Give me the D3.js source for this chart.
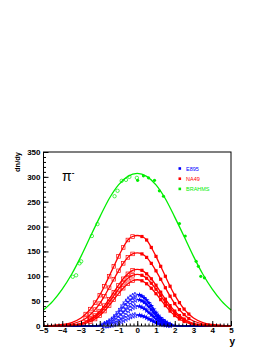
<!DOCTYPE html>
<html>
<head>
<meta charset="utf-8">
<script src="https://cdn.jsdelivr.net/npm/d3@7"></script>
<style>
  body { margin: 0; background: #fff; }
  svg { display: block; font-family: "Liberation Sans", Arial, sans-serif; }
</style>
</head>
<body>
<svg id="chart" width="272" height="352"></svg>
<script>
// axis ticks
var xTicks = [-5, -4, -3, -2, -1, 0, 1, 2, 3, 4, 5];
var yTicks = [0, 50, 100, 150, 200, 250, 300, 350];

// legend
var legendNames = ["E895", "NA49", "BRAHMS"];
var legendColors = ["#0000ff", "#ff0000", "#00ee00"];

// BRAHMS (green): measured points (left, open) and reflected (right, filled)
var brahmsLeftY = [-3.44, -3.26, -3.08, -2.99, -2.42, -2.12, -1.21, -1.05, -0.83, -0.6, -0.42, -0.02];
var brahmsLeftV = [99, 102, 126, 130, 181, 205, 261, 272, 292, 294, 300, 298];
var brahmsRightY = [0.02, 0.33, 0.6, 0.92, 1.18, 1.4, 2.25, 2.56, 3.14, 3.26, 3.39, 3.58];
var brahmsRightV = [293, 302, 298, 293, 272, 261, 206, 181, 130, 120, 100, 97];
// BRAHMS fit curve, half profile (|y|)
var brahmsCurveY = [0, 0.5, 1, 1.5, 2, 2.5, 3, 3.5, 4, 4.5, 5];
var brahmsCurveV = [307, 301, 284, 256, 219, 180, 140, 104, 74, 50, 32];

// NA49 (red), half profiles on |y| grid
var na49Y = [0, 0.25, 0.5, 0.75, 1, 1.25, 1.5, 1.75, 2, 2.25, 2.5, 2.75, 3, 3.5, 4, 4.5, 5];
var na49_158 = [182, 180, 173, 158, 140, 120, 100, 80, 62, 47, 34, 24, 16, 7, 3, 1, 0.3];
var na49_80  = [147, 145, 138, 126, 111, 94, 77, 60, 45, 33, 23, 15, 10, 4, 1.5, 0.5, 0.2];
var na49_40  = [114, 112, 105, 95, 82, 68, 54, 41, 30, 21, 14, 9, 5.5, 2, 0.7, 0.2, 0];
var na49_30  = [104, 102, 96, 86, 74, 61, 48, 36, 26, 18, 12, 7.5, 4.5, 1.5, 0.5, 0.1, 0];
var na49_20  = [93, 91, 85, 76, 65, 53, 41, 30, 21, 14, 9, 5.5, 3, 1, 0.3, 0.1, 0];
var na49MarkMax = [2.75, 2.75, 2.5, 2.5, 2.5];

// E895 (blue), half profiles on |y| grid
var e895Y = [0, 0.125, 0.25, 0.375, 0.5, 0.625, 0.75, 0.875, 1, 1.125, 1.25, 1.375, 1.5, 1.625, 1.75, 1.875, 2, 2.5, 3, 4, 5];
var e895_8 = [63, 62.3, 60, 56.5, 52, 46.5, 40.5, 33.5, 27, 21, 16, 12, 8.5, 5.8, 3.8, 2.3, 1.3, 0.2, 0, 0, 0];
var e895_6 = [53, 52.4, 50.5, 47.5, 43.5, 38.5, 33, 27, 21.5, 16.5, 12.2, 8.8, 6, 4, 2.5, 1.5, 0.9, 0.1, 0, 0, 0];
var e895_4 = [40, 39.4, 37.6, 34.8, 31.2, 27, 22.6, 18.2, 14.2, 10.6, 7.6, 5.2, 3.4, 2.1, 1.3, 0.7, 0.4, 0, 0, 0, 0];
var e895_2 = [22, 21.6, 20.5, 18.8, 16.6, 14.1, 11.5, 9, 6.8, 4.9, 3.4, 2.2, 1.4, 0.8, 0.5, 0.3, 0.1, 0, 0, 0, 0];
var e895MarkMax = 1.75;

var svg = d3.select("#chart");

var x = d3.scaleLinear().domain([-5, 5]).range([43.5, 231]);
var y = d3.scaleLinear().domain([0, 350]).range([326, 152]);

var line = d3.line()
  .x(function(d){ return x(d[0]) })
  .y(function(d){ return y(d[1]) })
  .curve(d3.curveMonotoneX);

// mirror a half profile into a full -5..5 curve
function mirror(grid, vals) {
  var pts = [];
  for (var i = grid.length - 1; i > 0; i--) pts.push([-grid[i], vals[i]]);
  for (var j = 0; j < grid.length; j++) pts.push([grid[j], vals[j]]);
  return pts;
}

var plot = svg.append("g");

// ---- curves ----
[e895_8, e895_6, e895_4, e895_2].forEach(function(v){
  plot.append("path").attr("d", line(mirror(e895Y, v)))
    .attr("fill", "none").attr("stroke", legendColors[0]).attr("stroke-width", 1.3);
});
[na49_158, na49_80, na49_40, na49_30, na49_20].forEach(function(v){
  plot.append("path").attr("d", line(mirror(na49Y, v)))
    .attr("fill", "none").attr("stroke", legendColors[1]).attr("stroke-width", 1.3);
});
plot.append("path").attr("d", line(mirror(brahmsCurveY, brahmsCurveV)))
  .attr("fill", "none").attr("stroke", legendColors[2]).attr("stroke-width", 1.3);

// ---- markers ----
var star = d3.symbol().type(d3.symbolStar).size(10);
[e895_8, e895_6, e895_4, e895_2].forEach(function(v){
  var pts = [];
  e895Y.forEach(function(g, i){ if (g > 0 && g <= e895MarkMax) pts.push([g, v[i]]) });
  plot.selectAll(null).data(pts).enter().append("path")
    .attr("d", star)
    .attr("transform", function(d){ return "translate(" + x(-d[0]) + "," + y(d[1]) + ")" })
    .attr("fill", "#fff").attr("stroke", legendColors[0]).attr("stroke-width", 0.7);
  plot.selectAll(null).data(pts).enter().append("path")
    .attr("d", star)
    .attr("transform", function(d){ return "translate(" + x(d[0]) + "," + y(d[1]) + ")" })
    .attr("fill", legendColors[0]);
});

[na49_158, na49_80, na49_40, na49_30, na49_20].forEach(function(v, k){
  var pts = [];
  na49Y.forEach(function(g, i){ if (g > 0 && g <= na49MarkMax[k]) pts.push([g, v[i]]) });
  plot.selectAll(null).data(pts).enter().append("rect")
    .attr("x", function(d){ return x(-d[0]) - 1.8 })
    .attr("y", function(d){ return y(d[1]) - 1.8 })
    .attr("width", 3.6).attr("height", 3.6)
    .attr("fill", "none").attr("stroke", legendColors[1]).attr("stroke-width", 0.7);
  plot.selectAll(null).data(pts).enter().append("rect")
    .attr("x", function(d){ return x(d[0]) - 1.6 })
    .attr("y", function(d){ return y(d[1]) - 1.6 })
    .attr("width", 3.2).attr("height", 3.2)
    .attr("fill", legendColors[1]);
});

plot.selectAll(null).data(d3.zip(brahmsLeftY, brahmsLeftV)).enter().append("circle")
  .attr("cx", function(d){ return x(d[0]) })
  .attr("cy", function(d){ return y(d[1]) })
  .attr("r", 1.7)
  .attr("fill", "none").attr("stroke", legendColors[2]).attr("stroke-width", 0.7);
plot.selectAll(null).data(d3.zip(brahmsRightY, brahmsRightV)).enter().append("circle")
  .attr("cx", function(d){ return x(d[0]) })
  .attr("cy", function(d){ return y(d[1]) })
  .attr("r", 1.6)
  .attr("fill", legendColors[2]);

// ---- frame and axes ----
svg.append("rect")
  .attr("x", 43.5).attr("y", 152).attr("width", 231 - 43.5).attr("height", 326 - 152)
  .attr("fill", "none").attr("stroke", "#000").attr("stroke-width", 1);

var xMinor = d3.range(-5, 5.001, 0.2);
var yMinor = d3.range(0, 350.1, 10);

svg.append("g").attr("transform", "translate(0,326)")
  .call(d3.axisBottom(x).tickValues(xMinor).tickSize(-2.5).tickFormat(""))
  .call(function(g){ g.select(".domain").remove() });
svg.append("g").attr("transform", "translate(43.5,0)")
  .call(d3.axisLeft(y).tickValues(yMinor).tickSize(-2.5).tickFormat(""))
  .call(function(g){ g.select(".domain").remove() });

var xAxis = svg.append("g").attr("transform", "translate(0,326)")
  .call(d3.axisBottom(x).tickValues(xTicks).tickSize(-5).tickPadding(1.5).tickFormat(d3.format("d")));
xAxis.select(".domain").remove();
xAxis.selectAll("text").attr("font-size", 8).attr("font-weight", "bold")
  .attr("font-family", "Liberation Sans, Arial, sans-serif");

var yAxis = svg.append("g").attr("transform", "translate(43.5,0)")
  .call(d3.axisLeft(y).tickValues(yTicks).tickSize(-5).tickPadding(3));
yAxis.select(".domain").remove();
yAxis.selectAll("text").attr("font-size", 8).attr("font-weight", "bold")
  .attr("font-family", "Liberation Sans, Arial, sans-serif");

// axis titles
svg.append("text")
  .attr("transform", "translate(20,152) rotate(-90)")
  .attr("text-anchor", "end")
  .attr("font-size", 7.5).attr("font-weight", "bold")
  .text("dn/dy");
svg.append("text")
  .attr("x", 235).attr("y", 345)
  .attr("text-anchor", "end")
  .attr("font-size", 10).attr("font-weight", "bold")
  .text("y");

// pi- label
var pi = svg.append("text").attr("x", 62).attr("y", 181).attr("font-size", 14);
pi.append("tspan").text("π");
pi.append("tspan").attr("dy", -6).attr("font-size", 8).attr("font-weight", "bold").text("-");

// legend
var legend = svg.append("g");
legendNames.forEach(function(name, i){
  var ly = 168.5 + i * 10.2;
  legend.append("rect").attr("x", 178.5).attr("y", ly - 1.3).attr("width", 2.6).attr("height", 2.6)
    .attr("fill", legendColors[i]);
  legend.append("text").attr("x", 186).attr("y", ly + 2)
    .attr("font-size", 5.5).attr("fill", legendColors[i]).text(name);
});
</script>
</body>
</html>
